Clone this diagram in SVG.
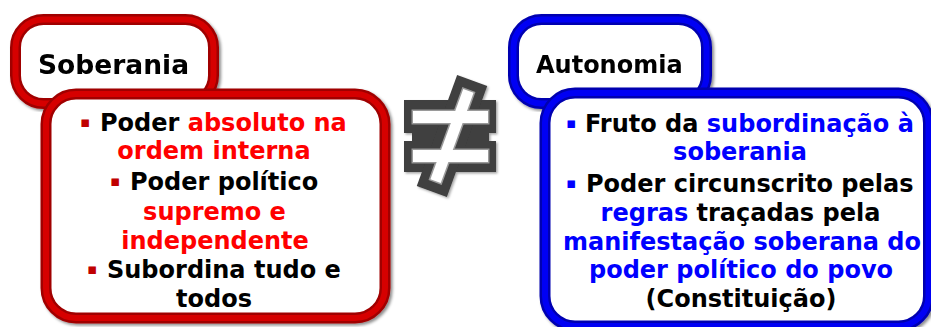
<svg xmlns="http://www.w3.org/2000/svg" width="931" height="327" viewBox="0 0 931 327">
  <defs>
    <filter id="sh" x="-10%" y="-10%" width="120%" height="120%">
      <feDropShadow dx="2" dy="2" stdDeviation="1.5" flood-color="#000" flood-opacity="0.45"/>
    </filter>
    <filter id="sh2" x="-20%" y="-20%" width="140%" height="140%">
      <feDropShadow dx="1.5" dy="1.5" stdDeviation="1" flood-color="#000" flood-opacity="0.35"/>
    </filter>
  </defs>
  <style>
    .txt { font-family: "DejaVu Sans", Verdana, sans-serif; font-weight: bold; font-size: 24px; fill: #000; }
    .title26 { font-size: 26.5px; }
    .mid { text-anchor: middle; }
    .red { fill: #ff0000; }
    .blue { fill: #0000ff; }
    .rbul { fill: #c00000; font-size: 15px; }
    .bbul { fill: #0000ff; font-size: 15px; }
    .r-out { fill: #ffffff; stroke: #a00000; stroke-width: 11; }
    .r-in { fill: none; stroke: #d60000; stroke-width: 6; }
    .b-out { fill: #ffffff; stroke: #0000b0; stroke-width: 11; }
    .b-in { fill: none; stroke: #0000f4; stroke-width: 6; }
    .ne-dark { fill: #3f3f3f; }
    .ne-bevel { fill: #ffffff; stroke: #9a9a9a; stroke-width: 3; }
    .ne-white { fill: #ffffff; }
  </style>

  <!-- Soberania -->
  <g id="soberania-tab" filter="url(#sh)">
    <rect class="r-out" x="15.5" y="19.5" width="198" height="84" rx="28"/>
    <rect class="r-in" x="15.5" y="19.5" width="198" height="84" rx="28"/>
    <text class="txt title26" x="38" y="74">Soberania</text>
  </g>
  <g id="soberania-body">
    <g filter="url(#sh)">
      <rect class="r-out" x="46" y="94" width="339" height="224" rx="30"/>
      <rect class="r-in" x="46" y="94" width="339" height="224" rx="30"/>
    </g>
    <text class="txt"><tspan class="rbul" x="80" y="127">▪</tspan><tspan x="100" y="131">Poder </tspan><tspan class="red">absoluto na</tspan></text>
    <text class="txt mid red" x="214" y="159">ordem interna</text>
    <text class="txt"><tspan class="rbul" x="110" y="186">▪</tspan><tspan x="130" y="190">Poder político</tspan></text>
    <text class="txt mid red" x="214.5" y="220">supremo e</text>
    <text class="txt mid red" x="215" y="249">independente</text>
    <text class="txt"><tspan class="rbul" x="87" y="274">▪</tspan><tspan x="107" y="278">Subordina tudo e</tspan></text>
    <text class="txt mid" x="214" y="307">todos</text>
  </g>

  <!-- not equal sign -->
  <g id="not-equal" filter="url(#sh2)">
    <g class="ne-dark">
      <rect x="404" y="100" width="92" height="33"/>
      <rect x="412" y="132" width="77" height="10"/>
      <rect x="404" y="141" width="92" height="31"/>
      <rect x="436" y="77" width="32" height="118" transform="rotate(20 452 136)"/>
    </g>
    <g class="ne-bevel">
      <rect x="413" y="111" width="75" height="12"/>
      <rect x="413" y="150" width="75" height="12"/>
      <rect x="446.5" y="88" width="11" height="96" transform="rotate(20 452 136)"/>
    </g>
    <g class="ne-white">
      <rect x="413" y="111" width="75" height="12"/>
      <rect x="413" y="150" width="75" height="12"/>
      <rect x="446.5" y="88" width="11" height="96" transform="rotate(20 452 136)"/>
    </g>
  </g>

  <!-- Autonomia -->
  <g id="autonomia-tab" filter="url(#sh)">
    <rect class="b-out" x="513.5" y="19.5" width="193" height="84" rx="28"/>
    <rect class="b-in" x="513.5" y="19.5" width="193" height="84" rx="28"/>
    <text class="txt" x="536" y="73">Autonomia</text>
  </g>
  <g id="autonomia-body">
    <g filter="url(#sh)">
      <rect class="b-out" x="545" y="93" width="383.5" height="233" rx="30"/>
      <rect class="b-in" x="545" y="93" width="383.5" height="233" rx="30"/>
    </g>
    <text class="txt"><tspan class="bbul" x="566" y="128">▪</tspan><tspan x="585" y="132">Fruto da </tspan><tspan class="blue">subordinação à</tspan></text>
    <text class="txt mid blue" x="740" y="160">soberania</text>
    <text class="txt"><tspan class="bbul" x="566" y="188">▪</tspan><tspan x="586" y="192">Poder circunscrito pelas</tspan></text>
    <text class="txt mid" x="740.5" y="221"><tspan class="blue">regras</tspan> traçadas pela</text>
    <text class="txt mid blue" x="742" y="250">manifestação soberana do</text>
    <text class="txt mid blue" x="741" y="278">poder político do povo</text>
    <text class="txt mid" x="741" y="307">(Constituição)</text>
  </g>

  <g id="connectors"/>
</svg>
